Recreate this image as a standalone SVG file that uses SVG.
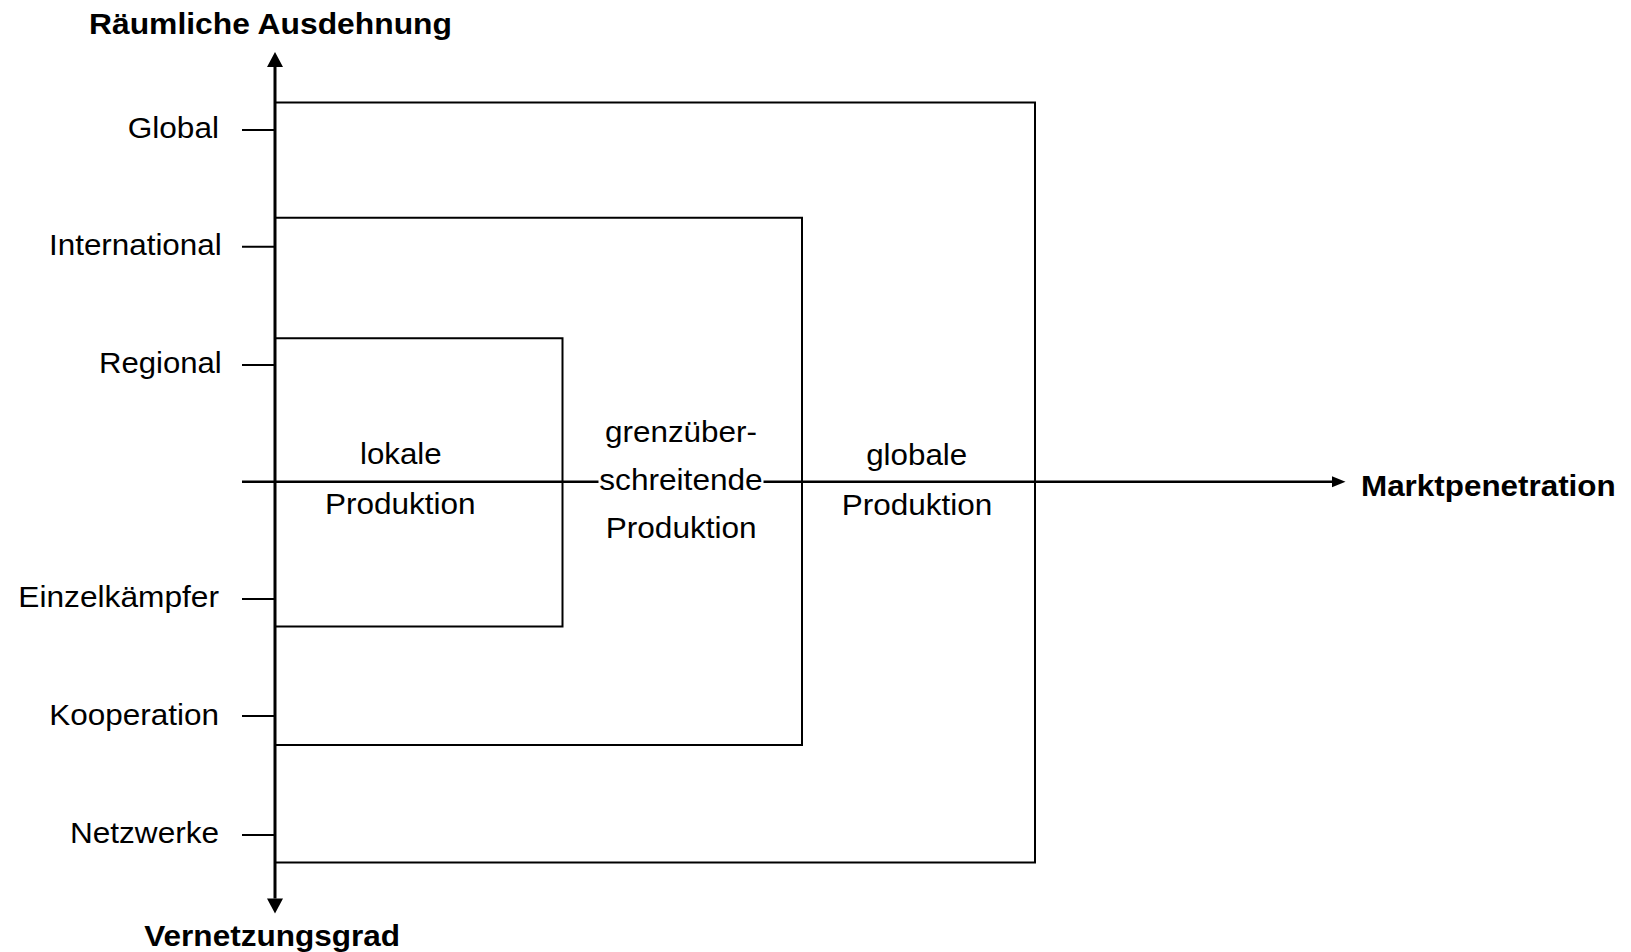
<svg xmlns="http://www.w3.org/2000/svg" width="1631" height="952" viewBox="0 0 1631 952">
  <style>
    text { font-family: "Liberation Sans", Arial, Helvetica, sans-serif; font-size: 30px; fill: #000; }
    .bold { font-weight: bold; }
    .lab { text-anchor: end; }
    .mid { text-anchor: middle; }
    .box { fill: none; stroke: #000; stroke-width: 2; }
    .tick { stroke: #000; stroke-width: 2; }
    .axis { fill: none; stroke: #000; }
  </style>
  <defs>
    <marker id="arrowV" markerUnits="userSpaceOnUse" markerWidth="16" markerHeight="16" refX="0" refY="8" orient="auto-start-reverse" overflow="visible">
      <path d="M0,0 L15,8 L0,16 Z" fill="#000"/>
    </marker>
    <marker id="arrowH" markerUnits="userSpaceOnUse" markerWidth="14" markerHeight="12" refX="0" refY="5.5" orient="auto" overflow="visible">
      <path d="M0,0 L13.5,5.5 L0,11 Z" fill="#000"/>
    </marker>
  </defs>

  <rect width="1631" height="952" fill="#fff"/>

  <!-- nested production areas, open to the vertical axis -->
  <g id="area-global">
    <path class="box" d="M275,102.5 H1035 V862.5 H275"/>
    <text class="mid" x="916.7" y="465" textLength="101" lengthAdjust="spacingAndGlyphs">globale</text>
    <text class="mid" x="917" y="515" textLength="150.6" lengthAdjust="spacingAndGlyphs">Produktion</text>
  </g>
  <g id="area-cross-border">
    <path class="box" d="M275,217.7 H802 V745 H275"/>
  </g>
  <g id="area-local">
    <path class="box" d="M275,338.3 H562.5 V626.5 H275"/>
    <text class="mid" x="400.8" y="464.3" textLength="81.7" lengthAdjust="spacingAndGlyphs">lokale</text>
    <text class="mid" x="400.3" y="514" textLength="150.7" lengthAdjust="spacingAndGlyphs">Produktion</text>
  </g>

  <!-- axes and scale ticks -->
  <g id="connectors">
    <path class="axis" stroke-width="2.5" d="M242,481.7 H1332" marker-end="url(#arrowH)"/>
    <path class="axis" stroke-width="3" d="M275,67 V898.5" marker-start="url(#arrowV)" marker-end="url(#arrowV)"/>
    <line class="tick" x1="242" y1="130" x2="275" y2="130"/>
    <line class="tick" x1="242" y1="246.7" x2="275" y2="246.7"/>
    <line class="tick" x1="242" y1="365" x2="275" y2="365"/>
    <line class="tick" x1="242" y1="599" x2="275" y2="599"/>
    <line class="tick" x1="242" y1="716" x2="275" y2="716"/>
    <line class="tick" x1="242" y1="835" x2="275" y2="835"/>
  </g>

  <!-- label of the middle area, drawn over the horizontal axis -->
  <g id="label-cross-border">
    <rect x="598.5" y="469" width="165" height="25" fill="#fff"/>
    <text class="mid" x="681" y="441.5" textLength="152" lengthAdjust="spacingAndGlyphs">grenzüber-</text>
    <text class="mid" x="681" y="489.5" textLength="163.4" lengthAdjust="spacingAndGlyphs">schreitende</text>
    <text class="mid" x="681.2" y="538.3" textLength="151" lengthAdjust="spacingAndGlyphs">Produktion</text>
  </g>

  <!-- axis titles -->
  <g id="axis-titles">
    <text class="bold" x="89" y="34.3" textLength="363" lengthAdjust="spacingAndGlyphs">Räumliche Ausdehnung</text>
    <text class="bold" x="1361" y="495.7" textLength="254.7" lengthAdjust="spacingAndGlyphs">Marktpenetration</text>
    <text class="bold" x="144.3" y="946" textLength="255.7" lengthAdjust="spacingAndGlyphs">Vernetzungsgrad</text>
  </g>

  <!-- scale labels -->
  <g id="scale-labels">
    <text class="lab" x="219" y="137.7" textLength="91.3" lengthAdjust="spacingAndGlyphs">Global</text>
    <text class="lab" x="221.7" y="255" textLength="172.7" lengthAdjust="spacingAndGlyphs">International</text>
    <text class="lab" x="221.7" y="372.7" textLength="122.7" lengthAdjust="spacingAndGlyphs">Regional</text>
    <text class="lab" x="219" y="607.3" textLength="200.7" lengthAdjust="spacingAndGlyphs">Einzelkämpfer</text>
    <text class="lab" x="219" y="725" textLength="169.7" lengthAdjust="spacingAndGlyphs">Kooperation</text>
    <text class="lab" x="219" y="842.7" textLength="149" lengthAdjust="spacingAndGlyphs">Netzwerke</text>
  </g>
</svg>
